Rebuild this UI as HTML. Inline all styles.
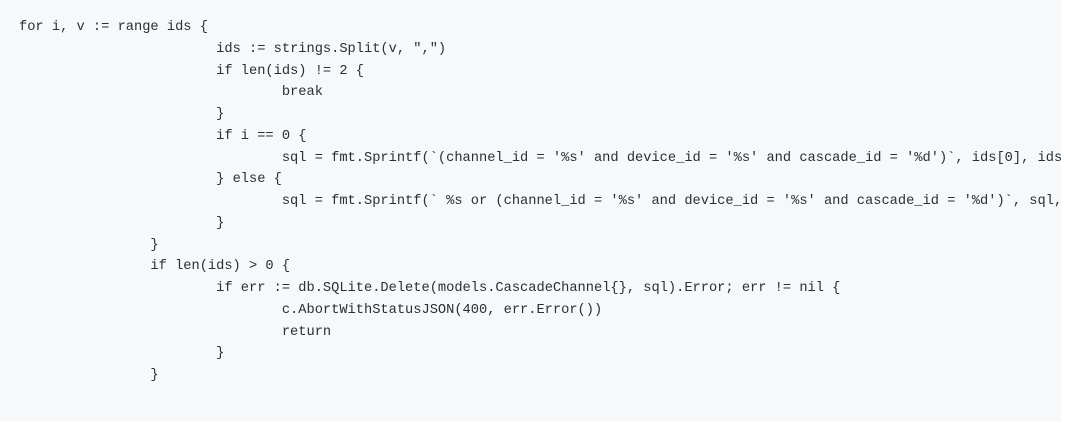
<!DOCTYPE html>
<html><head><meta charset="utf-8"><style>
html,body{margin:0;padding:0;background:#fff;width:1071px;height:422px;overflow:hidden}
.box{position:absolute;left:0;top:0;width:1061px;height:422px;background:#f6f8fa;overflow:hidden}
pre{margin:0;position:absolute;left:19px;top:17px;font-family:"Liberation Mono","DejaVu Sans Mono",monospace;font-size:13.7px;line-height:21.75px;color:#2b2f33;tab-size:8;-moz-tab-size:8;white-space:pre}
</style></head><body><div class="box"><pre>for i, v := range ids {
			ids := strings.Split(v, ",")
			if len(ids) != 2 {
				break
			}
			if i == 0 {
				sql = fmt.Sprintf(`(channel_id = '%s' and device_id = '%s' and cascade_id = '%d')`, ids[0], ids[1], id)
			} else {
				sql = fmt.Sprintf(` %s or (channel_id = '%s' and device_id = '%s' and cascade_id = '%d')`, sql, ids[0], ids[1], id)
			}
		}
		if len(ids) &gt; 0 {
			if err := db.SQLite.Delete(models.CascadeChannel{}, sql).Error; err != nil {
				c.AbortWithStatusJSON(400, err.Error())
				return
			}
		}</pre></div></body></html>
